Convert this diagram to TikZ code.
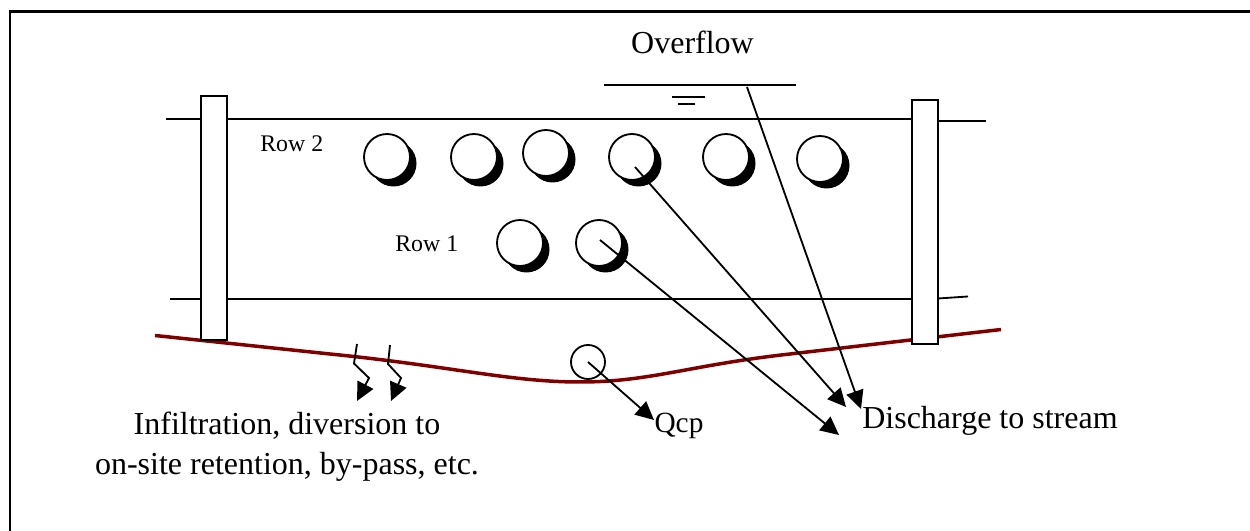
\documentclass[tikz,border=0pt]{standalone}
\usepackage{fontspec}
\setmainfont{Liberation Serif}
\usetikzlibrary{arrows.meta}
\definecolor{ground}{RGB}{128,0,0}
\tikzset{
 x=0.6pt,y=-0.6pt,
 frameline/.style={draw=black,line width=1.3pt},
 thin line/.style={draw=black,line width=1.1pt},
 arrowline/.style={draw=black,line width=1.1pt,-{Triangle[length=11pt,width=10.5pt]}},
 post/.style={draw=black,fill=white,line width=1.2pt},
 pipe/.style={draw=black,fill=white,line width=1.1pt,circle,minimum size=27.6pt,inner sep=0pt},
 lbig/.style={font=\fontsize{19.2}{22}\selectfont,inner sep=0pt},
 lsmall/.style={font=\fontsize{14.3}{17}\selectfont,inner sep=0pt},
}
\newcommand{\shadedpipe}[3]{%
 \fill[black] (#1+6.5,#2+6.5) circle[radius=23];
 \node[pipe] (#3) at (#1,#2) {};
}
\begin{document}
\begin{tikzpicture}
\useasboundingbox (0,0) rectangle (1250,531);
\draw[frameline] (10,531) -- (10,11.5) -- (1250,11.5);
% horizontal lines
\coordinate (tl) at (166,119); \coordinate (tr) at (986,121);
\coordinate (bl) at (170,299); \coordinate (br) at (968,296.5);
\draw[thin line] (tl) -- (911,119);
\draw[thin line] (938,121) -- (tr);
\draw[thin line] (bl) -- (911,299);
\draw[thin line] (938,298.5) -- (br);
% ground
\draw[draw=ground,line width=2.1pt] (155,335.5) -- (330,354) .. controls (450,366) and (510,382) .. (580,382) .. controls (650,382) and (690,365) .. (790,354) -- (1001,329.5);
% posts
\path[post] (201,96) rectangle (227,340);
\path[post] (912,100) rectangle (938,344);
% water level
\coordinate (ws1) at (604,85); \coordinate (ws2) at (796,85);
\draw[thin line] (ws1) -- (ws2);
\coordinate (w1a) at (672,97); \coordinate (w1b) at (705,97);
\coordinate (w2a) at (678,104); \coordinate (w2b) at (695,104);
\draw[thin line] (w1a) -- (w1b);
\draw[thin line] (w2a) -- (w2b);
% pipes
\shadedpipe{387}{157}{a}
\shadedpipe{474}{157}{b}
\shadedpipe{546}{153}{c}
\shadedpipe{632}{157}{d}
\shadedpipe{726}{157}{e}
\shadedpipe{820}{159}{f}
\shadedpipe{520}{243}{g}
\shadedpipe{599}{243}{h}
\node[draw=black,fill=none,line width=1.1pt,circle,minimum size=20.4pt,inner sep=0pt] (cp) at (588,362) {};
% labels
\node[lbig,anchor=base] (overflow) at (692.5,53.5) {Overflow};
\node[lsmall,anchor=base west] (row2) at (260,152) {Row 2};
\node[lsmall,anchor=base west] (row1) at (395,251.5) {Row 1};
\node[lbig,anchor=base,font=\fontsize{17.6}{22}\selectfont] (qcp) at (679,433) {Qcp};
\node[lbig,anchor=base] (dis) at (990,429) {Discharge to stream};
\node[lbig,anchor=base] (inf1) at (287,435) {Infiltration, diversion to};
\node[lbig,anchor=base] (inf2) at (287,475) {on-site retention, by-pass, etc.};
% arrows
\coordinate (h1) at (635,167); \coordinate (h1e) at (846,407);
\coordinate (h2) at (600,240); \coordinate (h2e) at (839,435);
\coordinate (h3) at (747,87); \coordinate (h3e) at (861,409);
\draw[arrowline] (h1) -- (h1e);
\draw[arrowline] (h2) -- (h2e);
\draw[arrowline] (h3) -- (h3e);
\coordinate (q1) at (cp.center); \coordinate (q2) at (654,420);
\draw[arrowline] (q1) -- (q2);
\coordinate (z1) at (357,344); \coordinate (z2) at (354,363.5); \coordinate (z3) at (369,378); \coordinate (z4) at (357,401);
\draw[arrowline] (z1) -- (z2) -- (z3) -- (z4);
\coordinate (y1) at (390,345); \coordinate (y2) at (388,364); \coordinate (y3) at (401,378); \coordinate (y4) at (391,401);
\draw[arrowline] (y1) -- (y2) -- (y3) -- (y4);
\end{tikzpicture}
\end{document}
